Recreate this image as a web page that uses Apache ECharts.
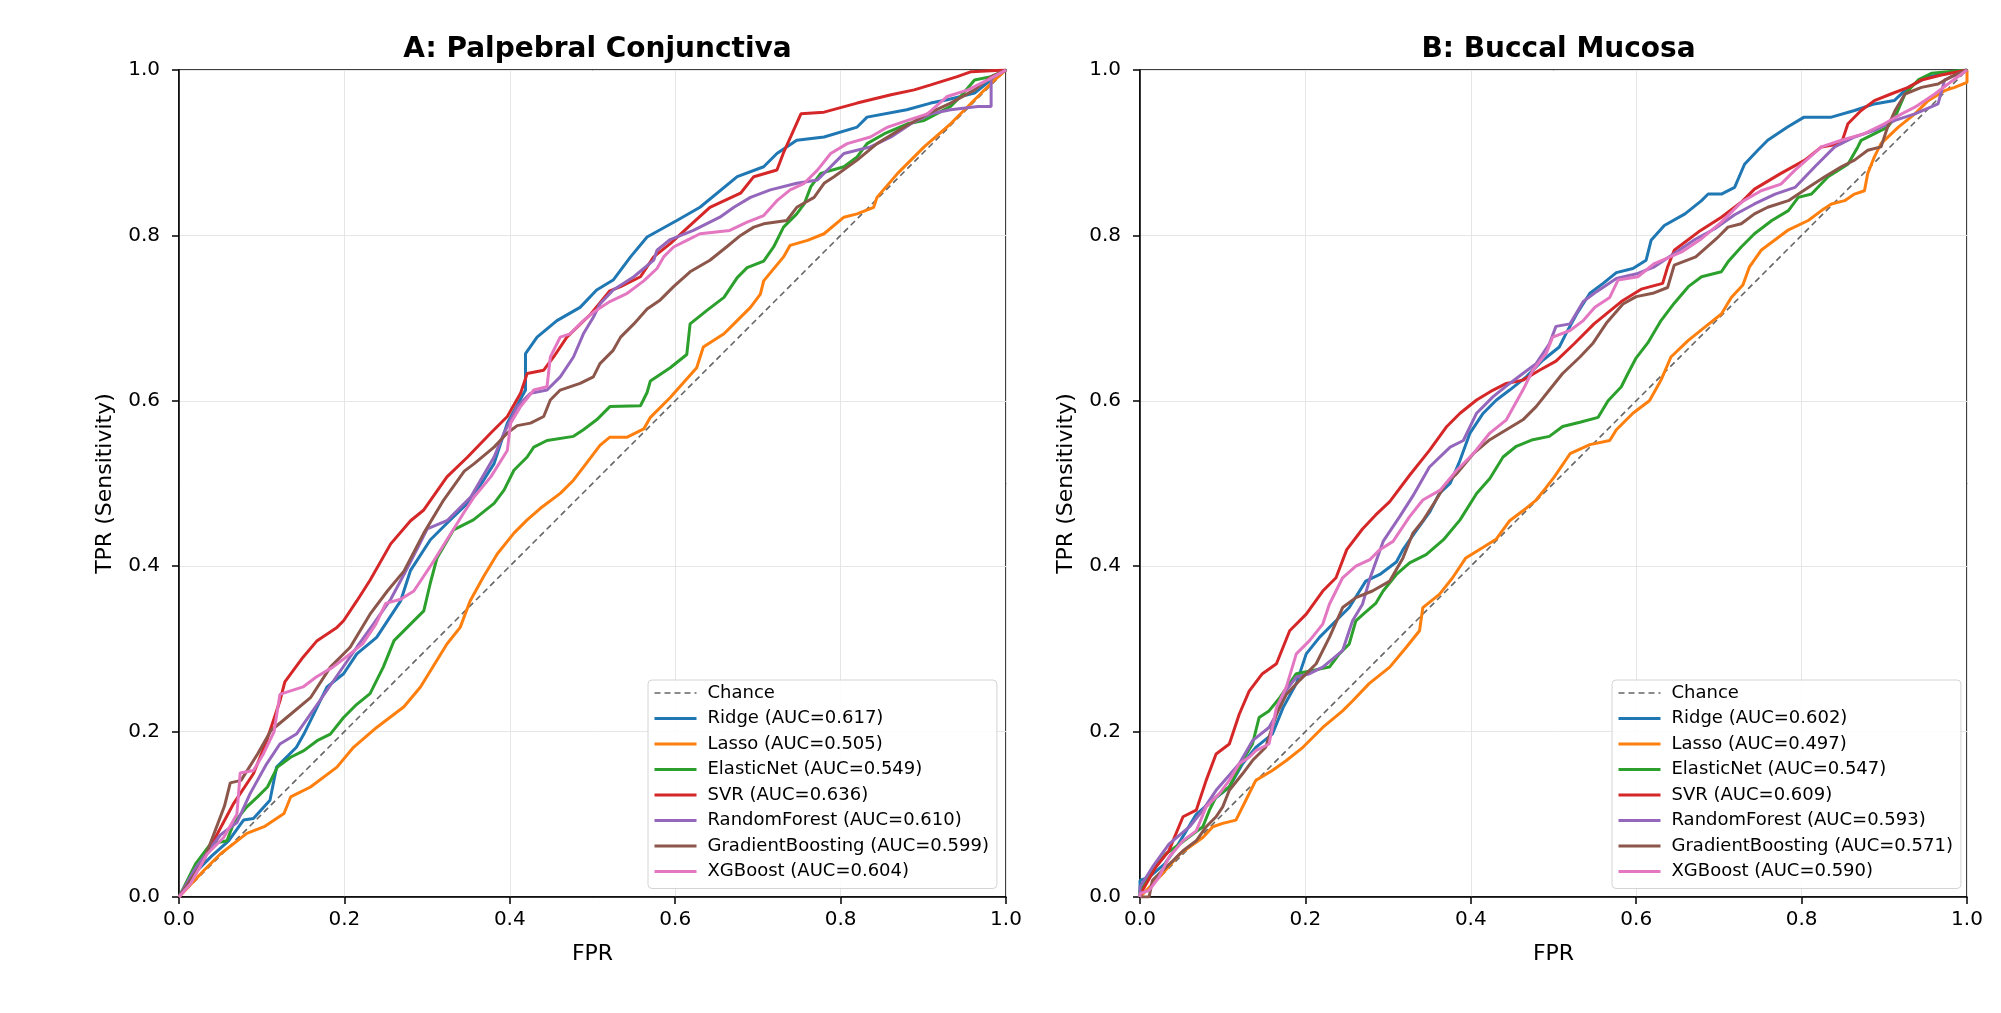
<!DOCTYPE html>
<html>
<head>
<meta charset="utf-8">
<title>ROC curves</title>
<script src="https://cdn.jsdelivr.net/npm/echarts/dist/echarts.min.js"></script>
<style>
  html, body { margin: 0; padding: 0; background: #fff; }
  #chart { width: 2001px; height: 1013px; }
</style>
</head>
<body>
<div id="chart"></div>
<script>
  const models = ['Ridge', 'Lasso', 'ElasticNet', 'SVR', 'RandomForest', 'GradientBoosting', 'XGBoost']
  const colors = ['#1f77b4', '#ff7f0e', '#2ca02c', '#d62728', '#9467bd', '#8c564b', '#e377c2']
  const titles = ['A: Palpebral Conjunctiva', 'B: Buccal Mucosa']
  const aucA = ['0.617', '0.505', '0.549', '0.636', '0.610', '0.599', '0.604']
  const aucB = ['0.602', '0.497', '0.547', '0.609', '0.593', '0.571', '0.590']
  const tickStep = 0.2
  const chance = [[0, 0], [1, 1]]

  // panel A: [FPR, TPR]
  const ridgeA = [[0,0],[0.02,0.03],[0.04,0.05],[0.06,0.068],[0.078,0.093],[0.09,0.095],[0.11,0.117],[0.118,0.157],[0.142,0.181],[0.151,0.197],[0.179,0.254],[0.199,0.27],[0.215,0.294],[0.239,0.314],[0.268,0.358],[0.28,0.395],[0.304,0.432],[0.324,0.452],[0.353,0.48],[0.381,0.524],[0.397,0.573],[0.419,0.613],[0.419,0.657],[0.433,0.677],[0.457,0.697],[0.485,0.713],[0.505,0.734],[0.525,0.746],[0.546,0.774],[0.566,0.798],[0.602,0.818],[0.63,0.834],[0.675,0.871],[0.707,0.883],[0.723,0.899],[0.747,0.915],[0.78,0.919],[0.82,0.931],[0.832,0.943],[0.88,0.952],[0.909,0.96],[0.929,0.964],[0.962,0.972],[0.982,0.988],[1,1]]
  const lassoA = [[0,0],[0.03,0.032],[0.05,0.052],[0.082,0.077],[0.103,0.085],[0.127,0.101],[0.135,0.121],[0.159,0.133],[0.191,0.157],[0.211,0.181],[0.239,0.205],[0.272,0.23],[0.292,0.254],[0.324,0.306],[0.34,0.326],[0.352,0.358],[0.368,0.387],[0.385,0.415],[0.405,0.44],[0.421,0.456],[0.437,0.47],[0.461,0.488],[0.477,0.504],[0.493,0.525],[0.509,0.546],[0.521,0.556],[0.542,0.556],[0.562,0.566],[0.57,0.58],[0.594,0.604],[0.626,0.64],[0.634,0.665],[0.659,0.681],[0.671,0.693],[0.691,0.713],[0.703,0.729],[0.707,0.745],[0.731,0.774],[0.739,0.788],[0.76,0.794],[0.78,0.802],[0.804,0.822],[0.82,0.826],[0.84,0.834],[0.844,0.846],[0.869,0.875],[0.901,0.907],[0.933,0.935],[0.962,0.964],[0.982,0.984],[1,1]]
  const enA = [[0,0],[0.02,0.04],[0.038,0.064],[0.058,0.068],[0.066,0.089],[0.082,0.109],[0.095,0.121],[0.107,0.133],[0.119,0.157],[0.135,0.169],[0.151,0.177],[0.167,0.189],[0.183,0.197],[0.199,0.217],[0.215,0.233],[0.231,0.246],[0.247,0.278],[0.26,0.31],[0.276,0.326],[0.296,0.346],[0.304,0.38],[0.312,0.41],[0.332,0.444],[0.356,0.456],[0.381,0.476],[0.393,0.492],[0.405,0.516],[0.421,0.532],[0.429,0.544],[0.445,0.552],[0.477,0.557],[0.489,0.565],[0.505,0.577],[0.521,0.593],[0.558,0.594],[0.566,0.61],[0.57,0.624],[0.594,0.64],[0.614,0.656],[0.618,0.693],[0.638,0.709],[0.659,0.725],[0.675,0.749],[0.687,0.761],[0.707,0.769],[0.719,0.786],[0.731,0.81],[0.747,0.826],[0.756,0.838],[0.764,0.859],[0.776,0.875],[0.804,0.883],[0.82,0.895],[0.832,0.911],[0.853,0.923],[0.881,0.935],[0.901,0.939],[0.933,0.956],[0.945,0.968],[0.962,0.988],[0.982,0.992],[1,1]]
  const svrA = [[0,0],[0.029,0.044],[0.066,0.113],[0.09,0.149],[0.106,0.189],[0.122,0.237],[0.128,0.26],[0.15,0.29],[0.167,0.31],[0.191,0.326],[0.199,0.334],[0.215,0.358],[0.231,0.383],[0.256,0.427],[0.28,0.455],[0.296,0.468],[0.324,0.508],[0.349,0.532],[0.377,0.561],[0.397,0.581],[0.413,0.609],[0.421,0.633],[0.441,0.637],[0.453,0.653],[0.469,0.677],[0.498,0.705],[0.521,0.733],[0.534,0.738],[0.558,0.75],[0.574,0.774],[0.594,0.79],[0.618,0.812],[0.642,0.834],[0.679,0.851],[0.695,0.871],[0.723,0.879],[0.731,0.9],[0.74,0.92],[0.752,0.947],[0.78,0.949],[0.82,0.96],[0.861,0.97],[0.889,0.976],[0.909,0.982],[0.941,0.992],[0.958,0.998],[1,1]]
  const rfA = [[0,0],[0.02,0.035],[0.05,0.075],[0.07,0.09],[0.086,0.125],[0.106,0.161],[0.122,0.185],[0.142,0.197],[0.17,0.237],[0.19,0.266],[0.215,0.302],[0.235,0.33],[0.256,0.36],[0.272,0.39],[0.29,0.425],[0.3,0.445],[0.324,0.455],[0.353,0.484],[0.381,0.532],[0.393,0.561],[0.409,0.593],[0.425,0.609],[0.445,0.613],[0.461,0.629],[0.477,0.653],[0.489,0.681],[0.501,0.701],[0.509,0.717],[0.525,0.734],[0.55,0.75],[0.574,0.77],[0.578,0.782],[0.594,0.795],[0.622,0.806],[0.654,0.822],[0.671,0.834],[0.691,0.846],[0.715,0.855],[0.747,0.863],[0.772,0.867],[0.796,0.891],[0.804,0.899],[0.836,0.907],[0.861,0.919],[0.885,0.935],[0.909,0.947],[0.933,0.952],[0.966,0.956],[0.982,0.956],[0.982,0.99],[1,1]]
  const gbA = [[0,0],[0.03,0.044],[0.055,0.11],[0.062,0.138],[0.075,0.141],[0.095,0.173],[0.111,0.201],[0.135,0.221],[0.159,0.241],[0.183,0.278],[0.207,0.302],[0.231,0.342],[0.252,0.37],[0.272,0.394],[0.296,0.44],[0.32,0.48],[0.345,0.515],[0.357,0.524],[0.381,0.544],[0.397,0.561],[0.409,0.57],[0.425,0.573],[0.441,0.581],[0.449,0.601],[0.461,0.613],[0.485,0.621],[0.501,0.629],[0.509,0.645],[0.525,0.661],[0.534,0.677],[0.55,0.693],[0.566,0.711],[0.582,0.722],[0.598,0.738],[0.618,0.756],[0.642,0.77],[0.662,0.786],[0.679,0.8],[0.695,0.81],[0.707,0.814],[0.735,0.818],[0.747,0.834],[0.768,0.846],[0.78,0.863],[0.792,0.871],[0.82,0.891],[0.844,0.911],[0.877,0.931],[0.905,0.947],[0.933,0.96],[0.962,0.976],[0.982,0.992],[1,1]]
  const xgbA = [[0,0],[0.014,0.016],[0.034,0.052],[0.054,0.072],[0.07,0.1],[0.074,0.15],[0.09,0.153],[0.102,0.173],[0.115,0.2],[0.122,0.245],[0.134,0.249],[0.15,0.254],[0.166,0.266],[0.186,0.278],[0.202,0.29],[0.222,0.306],[0.238,0.33],[0.25,0.355],[0.268,0.36],[0.284,0.37],[0.304,0.4],[0.324,0.432],[0.344,0.464],[0.357,0.484],[0.377,0.508],[0.397,0.54],[0.401,0.573],[0.413,0.593],[0.429,0.613],[0.445,0.617],[0.449,0.653],[0.461,0.677],[0.473,0.681],[0.489,0.697],[0.501,0.707],[0.521,0.72],[0.542,0.73],[0.562,0.745],[0.578,0.76],[0.586,0.774],[0.598,0.786],[0.614,0.794],[0.63,0.802],[0.666,0.806],[0.687,0.816],[0.707,0.824],[0.723,0.842],[0.739,0.855],[0.756,0.863],[0.772,0.879],[0.788,0.899],[0.808,0.911],[0.836,0.919],[0.857,0.931],[0.881,0.939],[0.905,0.947],[0.929,0.968],[0.954,0.976],[0.978,0.988],[1,1]]

  // panel B: [FPR, TPR]
  const ridgeB = [[0,0],[0,0.02],[0.011,0.024],[0.03,0.04],[0.044,0.06],[0.068,0.1],[0.088,0.117],[0.108,0.133],[0.124,0.161],[0.14,0.181],[0.16,0.197],[0.173,0.229],[0.189,0.258],[0.201,0.294],[0.217,0.314],[0.237,0.334],[0.253,0.35],[0.273,0.382],[0.29,0.39],[0.31,0.405],[0.318,0.42],[0.334,0.443],[0.35,0.465],[0.362,0.488],[0.375,0.5],[0.387,0.528],[0.399,0.561],[0.415,0.585],[0.431,0.601],[0.447,0.613],[0.467,0.629],[0.487,0.649],[0.507,0.665],[0.515,0.681],[0.528,0.705],[0.544,0.73],[0.56,0.742],[0.576,0.755],[0.596,0.76],[0.612,0.77],[0.618,0.794],[0.634,0.812],[0.659,0.826],[0.679,0.842],[0.687,0.85],[0.703,0.85],[0.719,0.858],[0.731,0.886],[0.747,0.903],[0.759,0.915],[0.783,0.931],[0.803,0.943],[0.836,0.943],[0.864,0.951],[0.888,0.959],[0.912,0.963],[0.929,0.979],[0.953,0.992],[1,1]]
  const lassoB = [[0,0],[0.027,0.028],[0.048,0.052],[0.076,0.072],[0.088,0.085],[0.1,0.089],[0.116,0.093],[0.128,0.117],[0.14,0.141],[0.16,0.153],[0.177,0.165],[0.197,0.181],[0.221,0.205],[0.245,0.225],[0.257,0.237],[0.277,0.258],[0.302,0.278],[0.322,0.302],[0.338,0.322],[0.342,0.35],[0.362,0.366],[0.378,0.386],[0.394,0.41],[0.415,0.423],[0.431,0.433],[0.447,0.455],[0.463,0.467],[0.479,0.48],[0.491,0.495],[0.501,0.508],[0.52,0.536],[0.544,0.547],[0.568,0.552],[0.576,0.565],[0.596,0.585],[0.616,0.6],[0.63,0.625],[0.642,0.653],[0.663,0.673],[0.683,0.689],[0.703,0.705],[0.715,0.725],[0.729,0.74],[0.737,0.762],[0.751,0.782],[0.783,0.806],[0.808,0.818],[0.824,0.83],[0.836,0.838],[0.852,0.842],[0.864,0.85],[0.876,0.854],[0.88,0.875],[0.888,0.895],[0.896,0.911],[0.917,0.931],[0.937,0.947],[0.953,0.963],[0.973,0.975],[0.985,0.979],[1,0.985],[1,1]]
  const enB = [[0,0],[0,0.008],[0.015,0.032],[0.031,0.052],[0.048,0.064],[0.064,0.076],[0.076,0.085],[0.084,0.105],[0.092,0.121],[0.108,0.133],[0.124,0.165],[0.136,0.185],[0.144,0.217],[0.156,0.225],[0.169,0.241],[0.189,0.27],[0.209,0.274],[0.229,0.278],[0.241,0.294],[0.253,0.306],[0.261,0.334],[0.27,0.342],[0.285,0.355],[0.294,0.37],[0.31,0.39],[0.326,0.404],[0.346,0.414],[0.367,0.432],[0.387,0.456],[0.407,0.488],[0.423,0.506],[0.439,0.532],[0.455,0.545],[0.475,0.553],[0.495,0.557],[0.511,0.569],[0.532,0.574],[0.554,0.58],[0.566,0.6],[0.582,0.617],[0.59,0.633],[0.6,0.652],[0.614,0.67],[0.63,0.697],[0.646,0.718],[0.663,0.738],[0.679,0.75],[0.703,0.756],[0.711,0.768],[0.727,0.786],[0.743,0.802],[0.764,0.818],[0.784,0.83],[0.796,0.846],[0.812,0.85],[0.832,0.871],[0.856,0.886],[0.868,0.907],[0.872,0.915],[0.904,0.931],[0.913,0.943],[0.925,0.971],[0.941,0.988],[0.957,0.996],[1,1]]
  const svrB = [[0,0],[0.003,0.008],[0.019,0.036],[0.035,0.056],[0.052,0.097],[0.068,0.105],[0.08,0.141],[0.092,0.173],[0.108,0.185],[0.12,0.221],[0.132,0.249],[0.148,0.27],[0.165,0.282],[0.181,0.322],[0.201,0.342],[0.221,0.37],[0.237,0.386],[0.25,0.42],[0.269,0.445],[0.285,0.462],[0.302,0.478],[0.326,0.51],[0.35,0.54],[0.371,0.569],[0.387,0.585],[0.407,0.601],[0.427,0.613],[0.443,0.621],[0.463,0.625],[0.483,0.637],[0.503,0.648],[0.525,0.669],[0.549,0.693],[0.582,0.72],[0.606,0.735],[0.632,0.742],[0.638,0.762],[0.646,0.782],[0.675,0.804],[0.703,0.822],[0.727,0.84],[0.743,0.856],[0.775,0.875],[0.804,0.891],[0.824,0.907],[0.848,0.911],[0.856,0.935],[0.872,0.951],[0.888,0.963],[0.908,0.971],[0.929,0.979],[0.945,0.988],[0.969,0.994],[1,1]]
  const rfB = [[0,0],[0,0.012],[0.015,0.036],[0.035,0.064],[0.06,0.085],[0.076,0.105],[0.092,0.129],[0.12,0.161],[0.136,0.189],[0.156,0.205],[0.165,0.221],[0.173,0.245],[0.189,0.266],[0.205,0.27],[0.221,0.278],[0.245,0.298],[0.257,0.334],[0.269,0.354],[0.278,0.385],[0.294,0.43],[0.314,0.46],[0.33,0.485],[0.35,0.52],[0.375,0.544],[0.391,0.552],[0.407,0.585],[0.427,0.605],[0.447,0.621],[0.463,0.633],[0.479,0.645],[0.495,0.669],[0.503,0.69],[0.52,0.693],[0.536,0.72],[0.552,0.732],[0.576,0.748],[0.602,0.754],[0.622,0.762],[0.646,0.778],[0.671,0.795],[0.695,0.808],[0.719,0.825],[0.743,0.838],[0.768,0.85],[0.792,0.858],[0.816,0.883],[0.84,0.907],[0.864,0.919],[0.888,0.927],[0.913,0.939],[0.937,0.947],[0.965,0.959],[0.973,0.988],[1,1]]
  const gbB = [[0,0],[0.011,0],[0.015,0.02],[0.027,0.032],[0.04,0.044],[0.052,0.056],[0.068,0.068],[0.08,0.085],[0.092,0.097],[0.1,0.109],[0.108,0.129],[0.124,0.149],[0.136,0.165],[0.152,0.181],[0.165,0.221],[0.177,0.245],[0.193,0.262],[0.213,0.282],[0.229,0.314],[0.245,0.35],[0.261,0.362],[0.281,0.37],[0.302,0.382],[0.318,0.41],[0.33,0.44],[0.342,0.455],[0.358,0.48],[0.37,0.5],[0.383,0.512],[0.403,0.536],[0.423,0.553],[0.443,0.565],[0.463,0.577],[0.479,0.593],[0.495,0.613],[0.511,0.633],[0.532,0.653],[0.548,0.67],[0.564,0.694],[0.584,0.717],[0.6,0.726],[0.62,0.73],[0.638,0.737],[0.646,0.764],[0.672,0.774],[0.697,0.796],[0.711,0.81],[0.727,0.814],[0.743,0.826],[0.759,0.834],[0.784,0.842],[0.808,0.858],[0.828,0.871],[0.848,0.883],[0.864,0.891],[0.88,0.903],[0.896,0.907],[0.904,0.931],[0.913,0.951],[0.925,0.971],[0.945,0.979],[0.965,0.983],[0.981,0.992],[1,1]]
  const xgbB = [[0,0],[0,0.004],[0.011,0.008],[0.023,0.024],[0.035,0.048],[0.052,0.068],[0.068,0.08],[0.08,0.109],[0.096,0.125],[0.108,0.141],[0.12,0.161],[0.132,0.169],[0.14,0.177],[0.156,0.185],[0.165,0.229],[0.177,0.254],[0.189,0.294],[0.205,0.31],[0.221,0.33],[0.229,0.354],[0.245,0.386],[0.261,0.4],[0.278,0.408],[0.29,0.42],[0.306,0.43],[0.326,0.46],[0.342,0.48],[0.363,0.492],[0.383,0.516],[0.403,0.536],[0.423,0.561],[0.443,0.577],[0.463,0.613],[0.475,0.637],[0.491,0.657],[0.499,0.677],[0.52,0.685],[0.536,0.697],[0.55,0.713],[0.568,0.725],[0.578,0.746],[0.602,0.75],[0.622,0.766],[0.655,0.78],[0.679,0.796],[0.703,0.816],[0.727,0.84],[0.751,0.854],[0.775,0.862],[0.792,0.879],[0.824,0.907],[0.848,0.915],[0.876,0.923],[0.9,0.935],[0.921,0.947],[0.937,0.955],[0.961,0.971],[0.977,0.983],[1,1]]

  const curvesA = [ridgeA, lassoA, enA, svrA, rfA, gbA, xgbA]
  const curvesB = [ridgeB, lassoB, enB, svrB, rfB, gbB, xgbB]

  const font = 'DejaVu Sans'
  const panels = [
    { left: 179, legendLeft: 648, auc: aucA, curves: curvesA },
    { left: 1140, legendLeft: 1612, auc: aucB, curves: curvesB },
  ]
  const plotTop = 70
  const plotSize = 827

  const axisCommon = {
    type: 'value',
    min: 0,
    max: 1,
    interval: tickStep,
    nameLocation: 'middle',
    nameTextStyle: { color: '#000', fontSize: 22, fontFamily: font },
    axisLine: { show: true, onZero: false, lineStyle: { color: '#000', width: 1.5 } },
    axisTick: { show: true, length: 7, lineStyle: { color: '#000', width: 1.5 } },
    axisLabel: { color: '#000', fontSize: 20, fontFamily: font, formatter: v => v.toFixed(1) },
    splitLine: { show: true, lineStyle: { color: '#e6e6e6', width: 1 } },
  }

  const chart = echarts.init(document.getElementById('chart'))
  const options = {
    animation: false,
    backgroundColor: '#fff',
    title: panels.map((p, i) => ({
      text: titles[i],
      left: p.left + plotSize / 2,
      top: 31,
      textAlign: 'center',
      textStyle: { color: '#000', fontSize: 28, fontWeight: 'bold', fontFamily: font },
    })),
    grid: panels.map(p => ({
      left: p.left, top: plotTop, width: plotSize, height: plotSize,
      show: true, borderColor: '#000', borderWidth: 1.5, backgroundColor: 'transparent',
    })),
    xAxis: panels.map((p, i) => ({
      ...axisCommon, gridIndex: i, name: 'FPR', nameGap: 46,
      axisLabel: { ...axisCommon.axisLabel, margin: 13 },
    })),
    yAxis: panels.map((p, i) => ({
      ...axisCommon, gridIndex: i, name: 'TPR (Sensitivity)', nameGap: 63,
      axisLabel: { ...axisCommon.axisLabel, margin: 19 },
    })),
    legend: panels.map((p, i) => ({
      orient: 'vertical',
      left: p.legendLeft,
      top: 680,
      selectedMode: false,
      data: ['Chance', ...models.map((m, k) => `${m} (AUC=${p.auc[k]})`)],
      itemWidth: 42,
      itemHeight: 14,
      itemGap: 7.5,
      padding: [4, 8, 8, 5],
      backgroundColor: 'rgba(255,255,255,0.85)',
      borderColor: '#d4d4d4',
      borderWidth: 1,
      borderRadius: 4,
      itemStyle: { opacity: 0, borderWidth: 0 },
      lineStyle: { width: 'inherit' },
      textStyle: { color: '#000', fontSize: 18, fontFamily: font, lineHeight: 18, padding: [0, 0, 0, 6] },
    })),
    series: [],
  }

  panels.forEach((p, i) => {
    options.series.push({
      name: 'Chance', type: 'line', xAxisIndex: i, yAxisIndex: i, data: chance,
      symbol: 'none', color: '#666',
      lineStyle: { color: '#666', width: 1.6, type: [6, 4] },
    })
    models.forEach((m, k) => {
      options.series.push({
        name: `${m} (AUC=${p.auc[k]})`, type: 'line', xAxisIndex: i, yAxisIndex: i,
        data: p.curves[k], symbol: 'none', color: colors[k],
        lineStyle: { color: colors[k], width: 3 },
      })
    })
  })

  chart.setOption(options)
</script>
</body>
</html>
